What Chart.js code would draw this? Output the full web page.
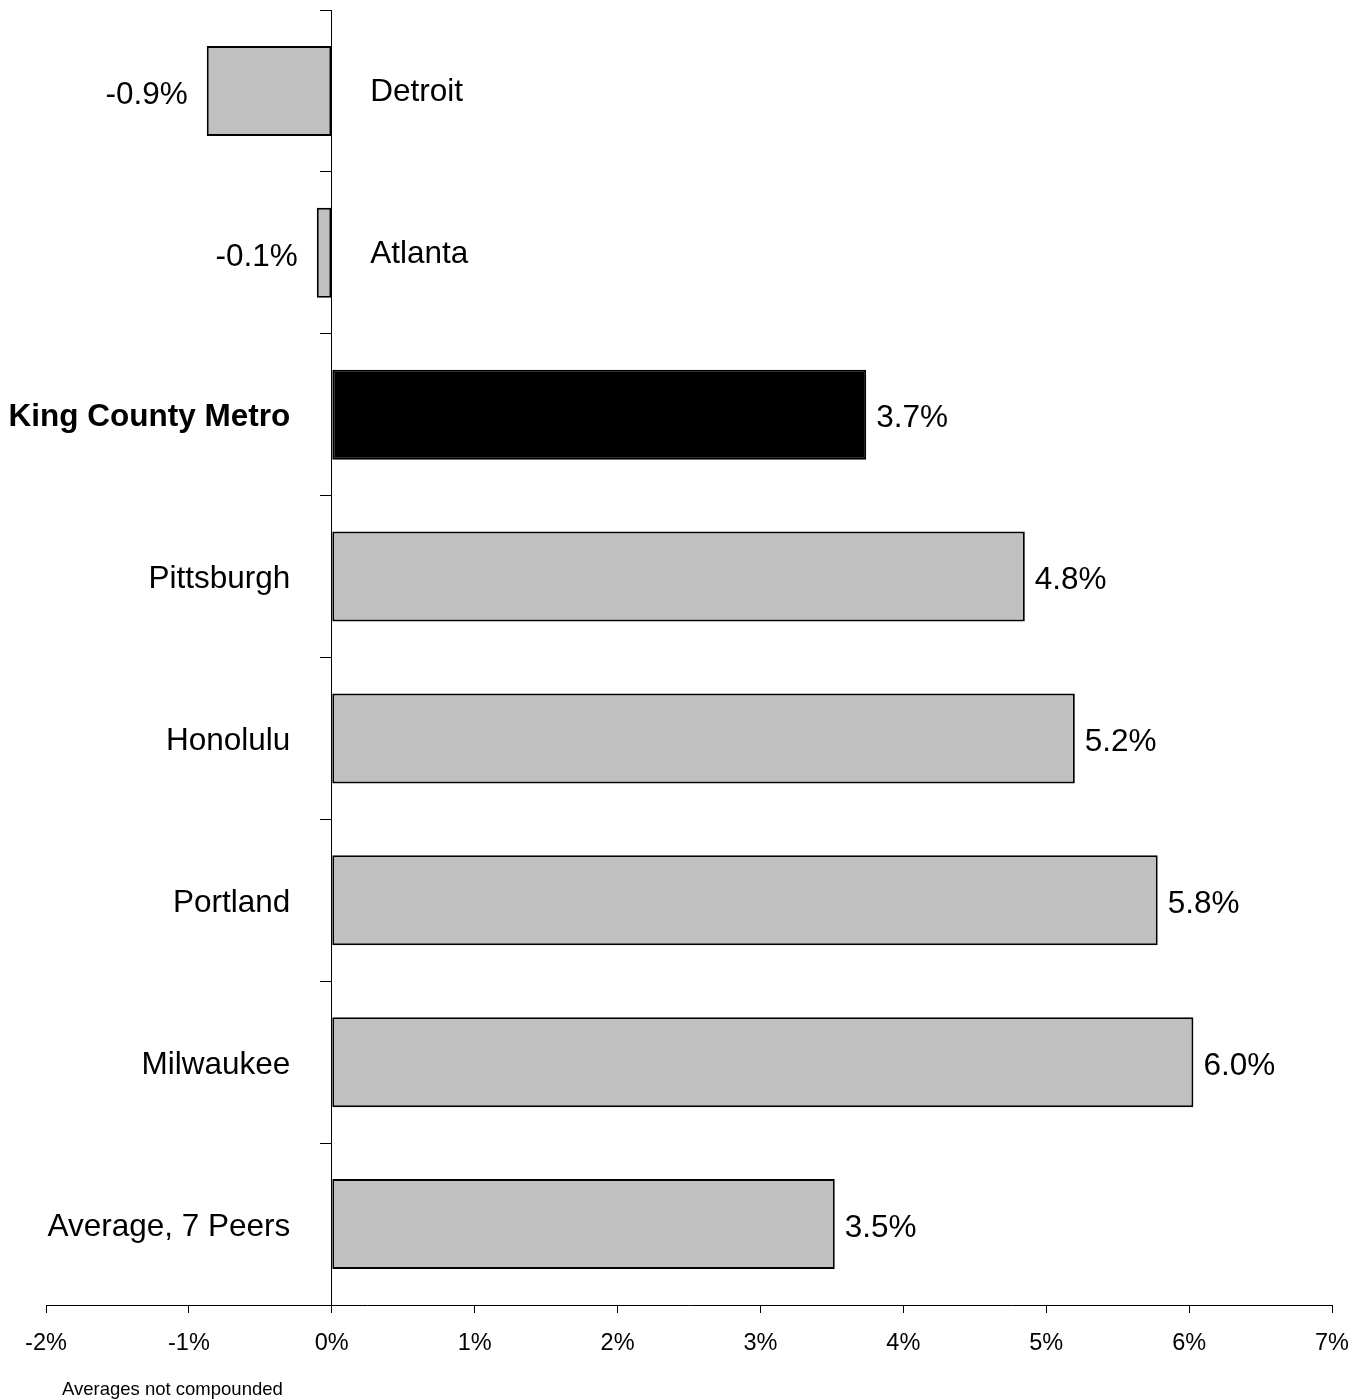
<!DOCTYPE html>
<html>
<head>
<meta charset="utf-8">
<script src="https://cdn.jsdelivr.net/npm/chart.js@4/dist/chart.umd.min.js"></script>
<style>
  html, body { margin: 0; padding: 0; background: #fff; }
  #wrap { position: relative; width: 1365px; height: 1399px; }
  #note { position: absolute; left: 62px; top: 1378px; font: 18.5px "Liberation Sans", Arial, sans-serif; color: #000; }
</style>
</head>
<body>
<div id="wrap">
  <canvas id="c" width="1365" height="1399"></canvas>
  <div id="note">Averages not compounded</div>
</div>
<script>
const categories = ["Detroit", "Atlanta", "King County Metro", "Pittsburgh", "Honolulu", "Portland", "Milwaukee", "Average, 7 Peers"];
const values = [-0.875, -0.105, 3.74, 4.85, 5.20, 5.78, 6.03, 3.52];
const valueLabels = ["-0.9%", "-0.1%", "3.7%", "4.8%", "5.2%", "5.8%", "6.0%", "3.5%"];
const highlight = "King County Metro";
const xMin = -2, xMax = 7, xStep = 1;

const FONT = '"Liberation Sans", Arial, sans-serif';

const labelPlugin = {
  id: 'barLabels',
  afterDatasetsDraw(chart) {
    const ctx = chart.ctx;
    const meta = chart.getDatasetMeta(0);
    ctx.save();
    ctx.fillStyle = '#000';
    ctx.textBaseline = 'middle';
    meta.data.forEach((bar, i) => {
      const v = values[i];
      const bold = categories[i] === highlight;
      const y = bar.y;
      ctx.font = (bold ? 'bold ' : '') + '31.5px ' + FONT;
      if (v >= 0) {
        ctx.textAlign = 'right';
        ctx.fillText(categories[i], bar.base - 42, y + 3);
        ctx.font = '31.5px ' + FONT;
        ctx.textAlign = 'left';
        ctx.fillText(valueLabels[i], bar.x + 10, y + 4);
      } else {
        ctx.textAlign = 'left';
        ctx.fillText(categories[i], bar.base + 39, y + 1);
        ctx.font = '31.5px ' + FONT;
        ctx.textAlign = 'right';
        ctx.fillText(valueLabels[i], bar.x - 19, y + 4);
      }
    });
    ctx.restore();
  }
};

new Chart(document.getElementById('c'), {
  type: 'bar',
  data: {
    labels: categories,
    datasets: [{
      data: values,
      backgroundColor: categories.map(c => c === highlight ? '#000000' : '#C0C0C0'),
      borderColor: '#000000',
      borderWidth: 2,
      borderSkipped: false,
      barPercentage: 0.556,
      categoryPercentage: 1.0
    }]
  },
  options: {
    indexAxis: 'y',
    responsive: false,
    animation: false,
    devicePixelRatio: 1,
    layout: { padding: { left: 46, right: 32, top: 10, bottom: 0 } },
    plugins: { legend: { display: false }, tooltip: { enabled: false }, title: { display: false } },
    scales: {
      x: {
        type: 'linear',
        min: xMin, max: xMax,
        afterFit: (s) => { s.height = 94; },
        ticks: {
          stepSize: xStep,
          color: '#000',
          font: { family: FONT, size: 23.5 },
          padding: 16,
          maxRotation: 0,
          callback: (v) => v + '%'
        },
        grid: { drawOnChartArea: false, drawTicks: true, tickLength: 8, color: '#000', lineWidth: 1 },
        border: { display: true, color: '#000', width: 1 }
      },
      y: {
        type: 'category',
        position: { x: 0 },
        ticks: { display: false },
        grid: { offset: true, drawOnChartArea: false, drawTicks: true, tickLength: 11, color: '#000', lineWidth: 1 },
        border: { display: true, color: '#000', width: 1 }
      }
    }
  },
  plugins: [labelPlugin]
});
</script>
</body>
</html>
